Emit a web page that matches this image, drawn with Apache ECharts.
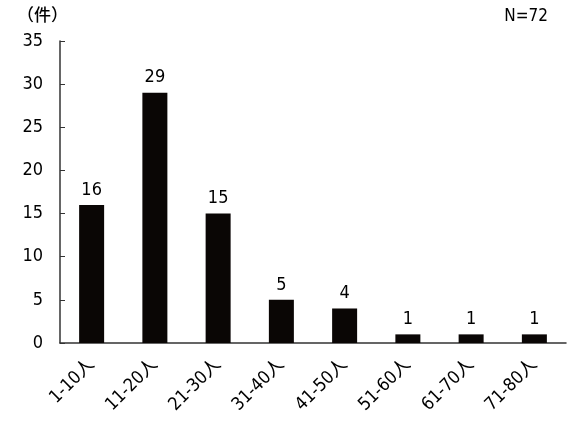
<!DOCTYPE html>
<html>
<head>
<meta charset="utf-8">
<script src="https://cdn.jsdelivr.net/npm/echarts@6/dist/echarts.min.js"></script>
<style>
  html, body { margin: 0; padding: 0; background: #fff; }
  #chart { width: 578px; height: 444px; }
</style>
</head>
<body>
<div id="chart"></div>
<script>
  // data
  const categories = ['1-10人', '11-20人', '21-30人', '31-40人', '41-50人', '51-60人', '61-70人', '71-80人'];
  const counts = [16, 29, 15, 5, 4, 1, 1, 1];
  const yTicks = { min: 0, max: 35, interval: 5 };

  const font = '"DejaVu Sans Condensed", "Noto Sans CJK JP", sans-serif';
  const chart = echarts.init(document.getElementById('chart'));
  chart.setOption({
    animation: false,
    textStyle: { fontFamily: font },
    graphic: [
      { type: 'text', left: 17, top: 6, style: { text: '（件）', fontSize: 17, fontFamily: '"Noto Sans CJK JP"', fontWeight: 500, fill: '#000' } },
      { type: 'text', right: 30, top: 8, style: { text: 'N=72', fontSize: 17, fontFamily: font, fill: '#000' } }
    ],
    grid: { left: 60, right: 12, top: 41, bottom: 101 },
    xAxis: {
      type: 'category',
      data: categories,
      axisLine: { lineStyle: { color: '#333', width: 1.5 } },
      axisTick: { inside: true, length: 5, lineStyle: { color: '#333' } },
      axisLabel: {
        rotate: 45,
        margin: 19,
        fontSize: 18,
        color: '#000',
        fontFamily: font
      }
    },
    yAxis: {
      type: 'value',
      min: yTicks.min,
      max: yTicks.max,
      interval: yTicks.interval,
      splitLine: { show: false },
      axisLine: { show: true, lineStyle: { color: '#333', width: 1.5 } },
      axisTick: { show: true, inside: true, length: 5, lineStyle: { color: '#333' } },
      axisLabel: { fontSize: 18, color: '#000', margin: 17, fontFamily: font }
    },
    series: [{
      type: 'bar',
      data: counts,
      barWidth: 25,
      itemStyle: { color: '#0a0605' },
      label: {
        show: true,
        position: 'top',
        distance: 6,
        fontSize: 18,
        color: '#000',
        fontFamily: font
      }
    }]
  });
</script>
</body>
</html>
